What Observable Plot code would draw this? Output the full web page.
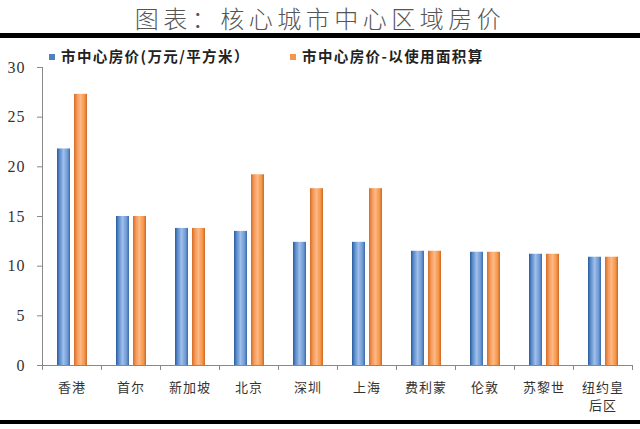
<!DOCTYPE html>
<html><head><meta charset="utf-8">
<script src="https://cdn.jsdelivr.net/npm/d3@7"></script>
<script src="https://cdn.jsdelivr.net/npm/@observablehq/plot@0.6"></script>
<style>
body{margin:0;background:#fff;width:640px;height:429px;overflow:hidden;position:relative;font-family:"Noto Sans CJK SC",sans-serif}
#title{position:absolute;top:0;left:0;width:640px;text-align:center;font-size:24px;line-height:normal;color:#555;font-weight:300;letter-spacing:4.5px}
#topline{position:absolute;top:33px;left:0;width:640px;height:5px;background:#000}
#botline{position:absolute;top:420px;left:0;width:640px;height:4px;background:#000}
#chart{position:absolute;top:41px;left:0}
.leg{position:absolute;top:46px;font-size:14.5px;font-weight:700;color:#222;line-height:20px;white-space:nowrap;letter-spacing:1.4px}
.sw{display:inline-block;width:6px;height:6px;margin-right:6px;vertical-align:2px}
</style></head>
<body>
<div id="title">图表：核心城市中心区域房价</div>
<div id="topline"></div>
<div id="chart"></div>
<div id="botline"></div>
<div class="leg" id="leg1" style="left:49px"></div>
<div class="leg" id="leg2" style="left:290px"></div>
<script>
const cities = ["香港","首尔","新加坡","北京","深圳","上海","费利蒙","伦敦","苏黎世","纽约皇后区"];
const priceBuilt = [21.8,15.0,13.8,13.5,12.4,12.4,11.5,11.4,11.2,10.9];
const priceUsable = [27.3,15.0,13.8,19.2,17.8,17.8,11.5,11.4,11.2,10.9];
const seriesNames = ["市中心房价(万元/平方米）","市中心房价-以使用面积算"];
const yTicks = [0,5,10,15,20,25,30];

const blue = cities.map((c,i)=>({city:c, value:priceBuilt[i]}));
const orange = cities.map((c,i)=>({city:c, value:priceUsable[i]}));

document.getElementById("leg1").innerHTML = `<span class="sw" style="background:#4f81bd"></span>${seriesNames[0]}`;
document.getElementById("leg2").innerHTML = `<span class="sw" style="background:#f79646"></span>${seriesNames[1]}`;

const chart = Plot.plot({
  width: 640, height: 380,
  marginTop: 26, marginBottom: 56, marginLeft: 42, marginRight: 8,
  x: {domain: cities, padding: 0, label: null},
  y: {domain: [0,30], label: null},
  marks: [
    Plot.barY(blue, {x:"city", y:"value", fill:"url(#gBlue)", insetLeft:15, insetRight:31}),
    Plot.barY(orange, {x:"city", y:"value", fill:"url(#gOrange)", insetLeft:32, insetRight:14}),
    Plot.ruleY([0], {stroke:"#888", strokeWidth:1}),
    Plot.ruleX([cities[0]], {dx:-29.5, y1:0, y2:30, stroke:"#888"}),
    Plot.ruleX(cities, {dx:-29.5, y1:0, y2:-0.5, stroke:"#888"}),
    Plot.ruleX([cities[cities.length-1]], {dx:29.5, y1:0, y2:-0.5, stroke:"#888"}),
    Plot.axisY({ticks: yTicks, tickSize:5, tickPadding:12, stroke:"#888", fill:"#333",
      fontSize:16, fontFamily:"Liberation Serif", tickFormat: d=>String(d)}),
    Plot.axisX({tickSize:0, tickPadding:14, fontSize:13, fill:"#333", lineHeight:1.38,
      fontFamily:"Noto Sans CJK SC", tickFormat: d => d==="纽约皇后区" ? "纽约皇\n后区" : d})
  ],
  style: {background:"transparent", overflow:"visible"}
});
const defs = d3.select(chart).insert("defs", ":first-child");
function grad(id, stops){
  const g = defs.append("linearGradient").attr("id", id).attr("x1","0").attr("x2","1").attr("y1","0").attr("y2","0");
  stops.forEach(([o,c])=>g.append("stop").attr("offset",o).attr("stop-color",c));
}
grad("gBlue", [["0%","#2a5b98"],["20%","#5a8ccd"],["50%","#9fbee9"],["80%","#6f9cd6"],["100%","#3b6aa8"]]);
grad("gOrange", [["0%","#d56c26"],["25%","#f59c5c"],["50%","#fcb886"],["80%","#f79646"],["100%","#c9692a"]]);
chart.querySelectorAll("text").forEach(t=>t.style.letterSpacing="1px");
document.getElementById("chart").append(chart);
</script>
</body></html>
